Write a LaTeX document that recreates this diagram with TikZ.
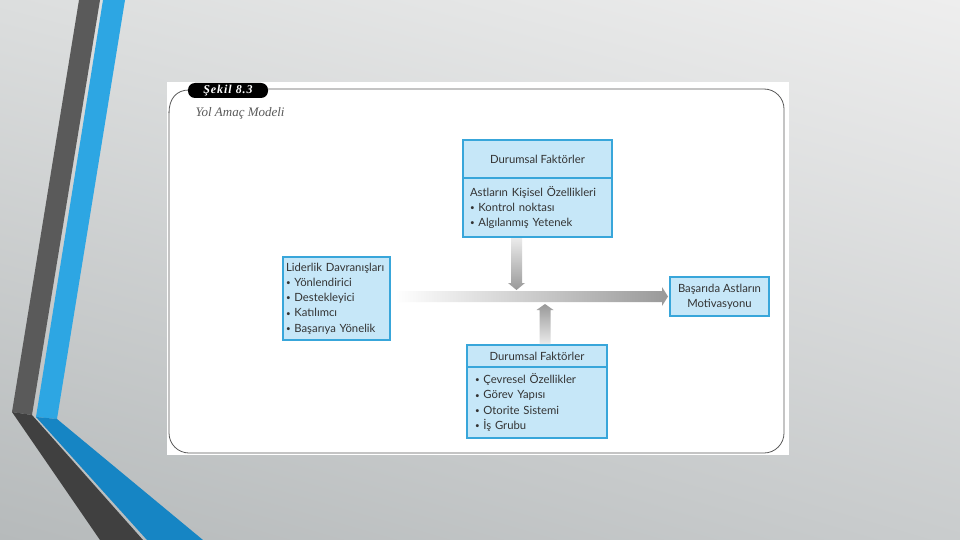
\documentclass[tikz,border=0pt]{standalone}
\usepackage{fontspec}
\setmainfont{Liberation Serif}
\newfontfamily\boxfont{Lato}
\usetikzlibrary{positioning,calc,shadings}
\definecolor{boxfill}{HTML}{C6E7F8}
\definecolor{boxline}{HTML}{38A6DA}
\definecolor{stripegray}{HTML}{5A5A5A}
\definecolor{stripedark}{HTML}{404040}
\definecolor{stripeblue}{HTML}{2DA6E3}
\definecolor{stripedeep}{HTML}{1685C4}
\definecolor{framegray}{HTML}{5A5A5A}
\definecolor{textgray}{HTML}{333333}
\definecolor{bgul}{HTML}{DCDEDE}
\definecolor{bgur}{HTML}{EEEEEE}
\definecolor{bgll}{HTML}{B6BABB}
\definecolor{bglr}{HTML}{C9CCCD}
\newcommand{\itm}{\raisebox{0.15ex}{\fontsize{8}{8}\selectfont•}\ }
\tikzset{
  panel/.style={draw=boxline,line width=1.8pt,fill=boxfill,outer sep=0pt,
    inner sep=3pt,text=textgray,font=\boxfont\fontsize{11.3}{15.3}\selectfont},
  head/.style={panel,align=center},
  body/.style={panel,align=left},
  tab/.style={fill=black,rounded corners=7pt,text=white,inner sep=0pt,
    minimum width=80pt,minimum height=15pt,
    font=\fontsize{12}{12}\selectfont\bfseries\itshape\addfontfeatures{LetterSpace=8}},
  frame/.style={draw=framegray,line width=0.8pt},
  fadeh/.style={left color=white,right color=black!40},
  fadedown/.style={top color=black!8,bottom color=black!40},
  fadeup/.style={top color=black!40,bottom color=black!8}
}
\begin{document}
\begin{tikzpicture}[x=1pt,y=-1pt]
% slide background and stripes
\shade[upper left=bgul,upper right=bgur,lower left=bgll,lower right=bglr]
  (0,0) rectangle (960,540);
\useasboundingbox (0,0) rectangle (960,540);
\fill[stripegray] (79,0) -- (100,0) -- (32,415) -- (12,412) -- cycle;
\fill[stripeblue] (103,0) -- (125,0) -- (57,419) -- (36,417) -- cycle;
\fill[stripedark] (12,412) -- (32,415) -- (143,540) -- (100,540) -- cycle;
\fill[stripedeep] (36,417) -- (57,419) -- (203,540) -- (147,540) -- cycle;
% figure panel
\fill[white] (167,82) rectangle (789,455);
\draw[frame,rounded corners=20pt] (268,89) -- (784,89) -- (784,453) -- (169,453) -- (169,112);
\draw[frame] (169,113) .. controls (169,98) and (177,90) .. (189,90);
\node[tab] (fig) at (228,90.5) {Şekil 8.3};
\node[anchor=west,text=black!65,font=\itshape\fontsize{13}{13}\selectfont] (title) at (192,113) {Yol Amaç Modeli};
% boxes
\node[head,minimum width=149pt,minimum height=38pt] (sitA) at (537.5,159) {Durumsal Faktörler};
\node[body,below=0pt of sitA,text width=135pt,inner xsep=7pt,minimum height=59pt] (traits)
  {Astların Kişisel Özellikleri\\\itm Kontrol noktası\\\itm Algılanmış Yetenek};
\node[body,text width=101pt,inner xsep=3pt,minimum height=83pt] (lead) at (336.5,298.5)
  {Liderlik Davranışları\\\itm Yönlendirici\\\itm Destekleyici\\\itm Katılımcı\\\itm Başarıya Yönelik};
\node[head,minimum width=99pt,minimum height=39pt] (motiv) at (719.5,296.5)
  {Başarıda Astların\\Motivasyonu};
\node[head,minimum width=140pt,minimum height=22pt] (sitB) at (537,356) {Durumsal Faktörler};
\node[body,below=0pt of sitB,text width=124pt,inner xsep=8pt,minimum height=71pt] (env)
  {\itm Çevresel Özellikler\\\itm Görev Yapısı\\\itm Otorite Sistemi\\\itm İş Grubu};
% arrows
\shade[fadeh] ($(lead.east |- motiv.west)+(5,-5.5)$) -- ($(motiv.west)+(-8,-5.5)$) -- ++(0,-4)
  -- ($(motiv.west)+(-2,0)$) -- ($(motiv.west)+(-8,9.5)$) -- ++(0,-4)
  -- ($(lead.east |- motiv.west)+(5,5.5)$) -- cycle;
\shade[fadedown] ($(traits.south)+(-26.5,1)$) -- ++(0,45) -- ++(-3,0) -- ++(8.5,7)
  -- ++(8.5,-7) -- ++(-3,0) -- ++(0,-45) -- cycle;
\shade[fadeup] ($(sitB.north)+(2.5,-1)$) -- ++(0,-34) -- ++(-3,0) -- ++(8.5,-6)
  -- ++(8.5,6) -- ++(-3,0) -- ++(0,34) -- cycle;
\end{tikzpicture}
\end{document}
